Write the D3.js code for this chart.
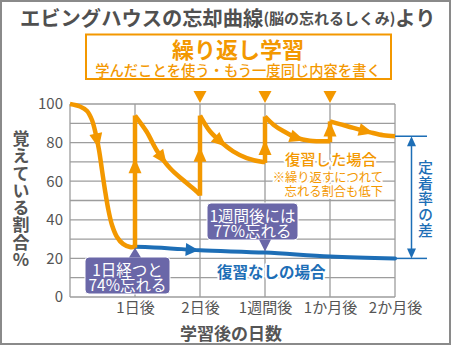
<!DOCTYPE html>
<html><head><meta charset="utf-8">
<script src="https://cdn.jsdelivr.net/npm/d3@7"></script>
<style>
html,body{margin:0;padding:0;background:#fff;}
svg{display:block;font-family:"Noto Sans CJK JP","Noto Sans",sans-serif;}
.vtext{writing-mode:vertical-rl;text-orientation:upright;}
</style></head><body>
<svg id="chart" width="453" height="346"></svg>
<script>
// Checkpoints on the x axis (0 = moment of study)
const xTickLabels = ["", "1日後", "2日後", "1週間後", "1か月後", "2か月後"];
const yTicks = [0, 20, 40, 60, 80, 100];
const gridValues = [0, 10, 20, 30, 40, 50, 60, 70, 80, 90, 100];

// Retention (%) with repeated review: one decay curve per study session
const firstDecay  = [[0,100],[0.154,98.7],[0.262,96.4],[0.338,91.7],[0.4,83.9],[0.446,76.2],[0.492,65.8],[0.538,55.4],[0.585,46.1],[0.646,37.3],[0.723,31.1],[0.815,27.5],[0.923,25.9],[1,26]];
const secondDecay = [[1,94],[1.18,85.6],[1.33,76.2],[1.54,66.7],[1.74,60.6],[1.95,54.6],[2,53]];
const thirdDecay  = [[2,94],[2.15,86],[2.31,80.7],[2.51,75.5],[2.72,72],[2.97,70],[3,70]];
const fourthDecay = [[3,93.5],[3.13,89.3],[3.28,86],[3.49,82.4],[3.69,81],[4,80.7]];
const fifthDecay  = [[4,91],[4.15,89.6],[4.36,87.6],[4.62,85.3],[4.82,83.8],[5,83.3]];
const reviewDecays = [firstDecay, secondDecay, thirdDecay, fourthDecay, fifthDecay];

// Retention (%) without review
const noReview = [[1,26],[1.5,25.3],[2,24.2],[3,23],[4,21],[5,20]];

// Review moments marked above the plot
const reviewMarks = [2, 3, 4];

// Where the direction arrows sit
const decayArrowX = [0.42, 1.42, 2.32, 3.5, 4.56];
const riseArrowY = [68, 74, 77.5, 87];
const noReviewArrowX = 1.88;

const orange = "#f39800", blue = "#1d6eb6", textGray = "#555", gridColor = "#9d9d9d", calloutFill = "#6a67a8";

const svg = d3.select("#chart");
const x = d3.scaleLinear().domain([0, 5]).range([70, 395]);
const y = d3.scaleLinear().domain([0, 100]).range([297, 104]);

// outer frame
svg.append("rect").attr("x", 1).attr("y", 1).attr("width", 449).attr("height", 343)
  .attr("fill", "#fff").attr("stroke", "#8a8a8a").attr("stroke-width", 2);

// heading
const title = svg.append("text").attr("x", 20).attr("y", 17).attr("dominant-baseline", "central")
  .attr("fill", "#505050").attr("font-weight", 700);
title.append("tspan").attr("font-size", 20.3).text("エビングハウスの忘却曲線");
title.append("tspan").attr("font-size", 15).text("(脳の忘れるしくみ)");
title.append("tspan").attr("font-size", 20.3).text("より");

svg.append("rect").attr("x", 86).attr("y", 34.5).attr("width", 305).attr("height", 44.5)
  .attr("fill", "#fff").attr("stroke", orange).attr("stroke-width", 2);
svg.append("text").attr("x", 238).attr("y", 47.5).attr("text-anchor", "middle").attr("dominant-baseline", "central")
  .attr("font-size", 22).attr("font-weight", 700).attr("fill", orange).text("繰り返し学習");
svg.append("text").attr("x", 238).attr("y", 69.5).attr("text-anchor", "middle").attr("dominant-baseline", "central")
  .attr("font-size", 14.3).attr("font-weight", 500).attr("fill", orange).text("学んだことを使う・もう一度同じ内容を書く");

// grid
const grid = svg.append("g").attr("stroke", gridColor).attr("stroke-width", 1.3);
grid.selectAll("line.h").data(gridValues).join("line").attr("class", "h")
  .attr("x1", x(0)).attr("x2", x(5)).attr("y1", d => y(d)).attr("y2", d => y(d));
grid.selectAll("line.v").data(d3.range(xTickLabels.length)).join("line").attr("class", "v")
  .attr("x1", d => x(d)).attr("x2", d => x(d)).attr("y1", y(0)).attr("y2", y(100));

// axes (labels only; lines come from the grid)
const yAxis = svg.append("g").attr("transform", `translate(${x(0)},0)`)
  .call(d3.axisLeft(y).tickValues(yTicks).tickSize(0).tickPadding(7));
yAxis.select(".domain").remove();
yAxis.selectAll("text").attr("font-size", 15).attr("fill", textGray).attr("font-family", "'Noto Sans CJK JP',sans-serif");

const xAxis = svg.append("g").attr("transform", `translate(0,${y(0)})`)
  .call(d3.axisBottom(x).tickValues(d3.range(1, xTickLabels.length)).tickFormat(i => xTickLabels[i]).tickSize(0).tickPadding(5));
xAxis.select(".domain").remove();
xAxis.selectAll("text").attr("font-size", 15).attr("fill", textGray).attr("font-family", "'Noto Sans CJK JP',sans-serif");

// axis titles
svg.append("text").attr("class", "vtext").attr("x", 21).attr("y", 130)
  .attr("font-size", 17).attr("font-weight", 700).attr("letter-spacing", 0.3).attr("fill", textGray).text("覚えている割合%");
svg.append("text").attr("x", 231).attr("y", 332).attr("text-anchor", "middle").attr("dominant-baseline", "central")
  .attr("font-size", 17).attr("font-weight", 700).attr("fill", textGray).text("学習後の日数");

// arrow head helper: triangle pointing along +x, rotated by angle
function arrowHead(g, cx, cy, angle, len, wid, color) {
  g.append("path")
    .attr("d", `M${len / 2},0L${-len / 2},${-wid / 2}L${-len / 2},${wid / 2}Z`)
    .attr("transform", `translate(${cx},${cy}) rotate(${angle})`)
    .attr("fill", color);
}
function pointAtX(node, tx) {
  const total = node.getTotalLength();
  let lo = 0, hi = total;
  for (let k = 0; k < 40; k++) {
    const mid = (lo + hi) / 2;
    if (node.getPointAtLength(mid).x < tx) lo = mid; else hi = mid;
  }
  const p = node.getPointAtLength(lo);
  const a = node.getPointAtLength(Math.max(0, lo - 2)), b = node.getPointAtLength(Math.min(total, lo + 2));
  return { x: p.x, y: p.y, angle: Math.atan2(b.y - a.y, b.x - a.x) * 180 / Math.PI };
}

const line = d3.line().x(d => x(d[0])).y(d => y(d[1])).curve(d3.curveCatmullRom.alpha(0.5));

// no-review curve
const marks = svg.append("g");
const blueLine = marks.append("path").datum(noReview).attr("d", line)
  .attr("fill", "none").attr("stroke", blue).attr("stroke-width", 4).attr("stroke-linecap", "round");
{
  const p = pointAtX(blueLine.node(), x(noReviewArrowX));
  arrowHead(marks, p.x, p.y, p.angle, 13, 13, blue);
}

// review curves with the jumps at each review
const orangeG = svg.append("g");
reviewDecays.forEach((seg, i) => {
  const path = orangeG.append("path").datum(seg).attr("d", line)
    .attr("fill", "none").attr("stroke", orange).attr("stroke-width", 4.5)
    .attr("stroke-linejoin", "round").attr("stroke-linecap", "butt");
  const p = pointAtX(path.node(), x(decayArrowX[i]));
  arrowHead(orangeG, p.x, p.y, p.angle, 15, 13, orange);
  if (i > 0) {
    const prev = reviewDecays[i - 1][reviewDecays[i - 1].length - 1];
    const start = seg[0];
    orangeG.append("line").attr("x1", x(start[0])).attr("x2", x(start[0]))
      .attr("y1", y(prev[1]) + 1).attr("y2", y(start[1]))
      .attr("stroke", orange).attr("stroke-width", 4.5);
    arrowHead(orangeG, x(start[0]), y(riseArrowY[i - 1]), -90, 15, 13, orange);
  }
});

// review markers above the plot
svg.append("g").selectAll("path").data(reviewMarks).join("path")
  .attr("d", d => `M${x(d) - 6.5},91L${x(d) + 6.5},91L${x(d)},103Z`).attr("fill", orange);

// difference in retention on the right
const last = fifthDecay[fifthDecay.length - 1], lastNo = noReview[noReview.length - 1];
const diff = svg.append("g");
[last[1], lastNo[1]].forEach(v => {
  diff.append("line").attr("x1", x(5)).attr("x2", 427).attr("y1", y(v)).attr("y2", y(v))
    .attr("stroke", blue).attr("stroke-width", 1.5);
});
diff.append("line").attr("x1", 411.5).attr("x2", 411.5).attr("y1", y(last[1]) + 6).attr("y2", y(lastNo[1]) - 6)
  .attr("stroke", blue).attr("stroke-width", 1.5);
arrowHead(diff, 411.5, y(last[1]) + 5, -90, 10, 9, blue);
arrowHead(diff, 411.5, y(lastNo[1]) - 5, 90, 10, 9, blue);
diff.append("text").attr("class", "vtext").attr("x", 425.5).attr("y", 160)
  .attr("font-size", 15).attr("font-weight", 500).attr("letter-spacing", 0.6).attr("fill", blue).text("定着率の差");

// curve labels
function haloText(sel) {
  return sel.attr("stroke", "#fff").attr("stroke-width", 4).attr("paint-order", "stroke").attr("stroke-linejoin", "round");
}
haloText(svg.append("text").attr("x", 285).attr("y", 158).attr("dominant-baseline", "central")
  .attr("font-size", 15.3).attr("font-weight", 500).attr("fill", orange).text("復習した場合"));
const note = haloText(svg.append("text").attr("text-anchor", "end").attr("dominant-baseline", "central")
  .attr("font-size", 12.3).attr("fill", orange));
note.append("tspan").attr("x", 383).attr("y", 176.5).text("※繰り返すにつれて");
note.append("tspan").attr("x", 383).attr("y", 190.5).text("忘れる割合も低下");
haloText(svg.append("text").attr("x", 217).attr("y", 270.5).attr("dominant-baseline", "central")
  .attr("font-size", 15.5).attr("font-weight", 700).attr("fill", blue).text("復習なしの場合"));

// callouts
function callout(bx, by, bw, bh, tip, lines) {
  const g = svg.append("g");
  g.append("rect").attr("x", bx).attr("y", by).attr("width", bw).attr("height", bh).attr("rx", 4)
    .attr("fill", calloutFill).attr("stroke", "#fff").attr("stroke-width", 1);
  const up = tip[1] < by;
  const baseY = up ? by + 0.5 : by + bh - 0.5;
  g.append("path").attr("d", `M${tip[0] - 6},${baseY}L${tip[0]},${tip[1]}L${tip[0] + 6},${baseY}Z`).attr("fill", calloutFill);
  const t = g.append("text").attr("text-anchor", "middle").attr("dominant-baseline", "central")
    .attr("font-size", 15.5).attr("fill", "#fff");
  lines.forEach((s, i) => {
    t.append("tspan").attr("x", bx + bw / 2).attr("y", by + 11.5 + i * 15.5).text(s);
  });
}
callout(85, 257, 85, 37, [x(1), y(noReview[0][1]) + 1], ["1日経つと", "74%忘れる"]);
callout(207, 203, 91, 37, [x(3), y(noReview[3][1]) - 1], ["1週間後には", "77%忘れる"]);
</script>
</body></html>
